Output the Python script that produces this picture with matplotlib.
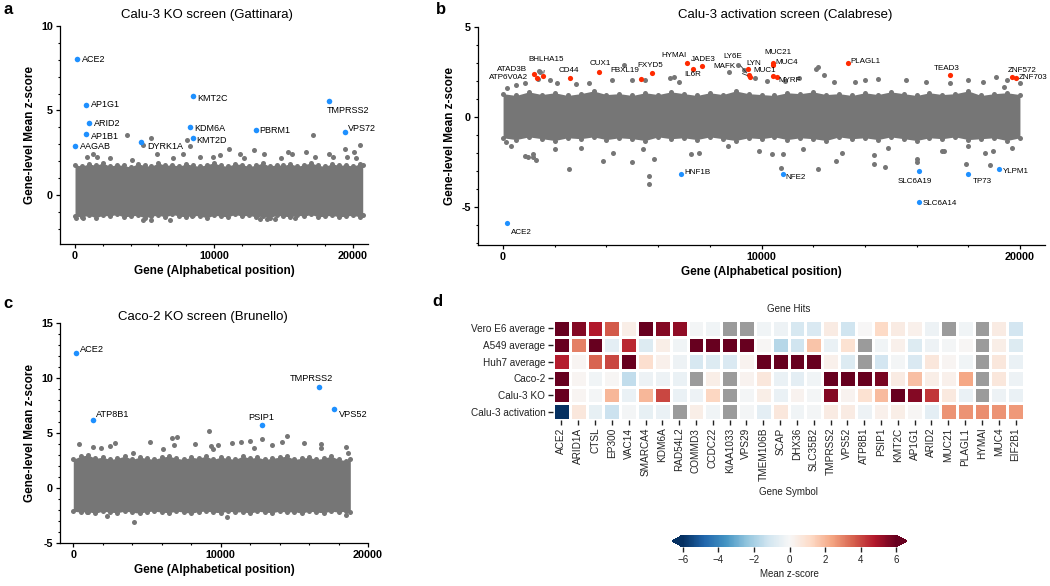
import numpy as np
import matplotlib
matplotlib.use('Agg')
import matplotlib.pyplot as plt

plt.rcParams['font.family'] = ['Liberation Sans', 'DejaVu Sans']

GRAY = '#767676'
BLUE = '#1e90ff'
RED = '#ff2a00'

# ---------------- panel a : Calu-3 KO (Gattinara) ----------------
# outline of the dense cloud, read every 500 genes (upper / lower edge)
a_band_x = list(range(0, 20501, 500)) + [20700]
a_band_top = [1.8, 1.7, 1.85, 1.75, 1.9, 1.7, 1.8, 1.75, 1.65, 1.85,
              1.75, 1.7, 1.9, 1.75, 1.8, 1.7, 1.85, 1.75, 1.7, 1.8,
              1.9, 1.75, 1.7, 1.85, 1.8, 1.7, 1.75, 1.9, 1.7, 1.8,
              1.75, 1.85, 1.7, 1.8, 1.9, 1.75, 1.7, 1.85, 1.75, 1.8,
              1.7, 1.85, 1.75]
a_band_bot = [-1.25, -1.3, -1.2, -1.35, -1.2, -1.25, -1.15, -1.3, -1.25, -1.2,
              -1.35, -1.25, -1.2, -1.3, -1.15, -1.25, -1.3, -1.2, -1.25, -1.35,
              -1.2, -1.25, -1.3, -1.15, -1.25, -1.2, -1.3, -1.25, -1.35, -1.2,
              -1.25, -1.3, -1.2, -1.25, -1.15, -1.3, -1.25, -1.2, -1.3, -1.25,
              -1.2, -1.3, -1.2]
a_out_x = [3710, 5440, 4900, 8070, 8260, 7740, 11100, 17100, 18300, 20500, 19400, 20100,
           12900, 13600, 10400, 5900, 1300, 840, 15350, 15600, 17300, 19600, 9000,
           1560, 2500, 4070, 7070, 9940, 11860, 12160, 14800, 16650, 18560, 20240,
           4860, 5500, 6800, 13300, 13800, 14400, 100, 550, 15800, 8400]
a_out_y = [3.53, 3.39, 2.94, 3.27, 2.9, 2.41, 2.7, 3.53, 2.41, 2.98, 2.7, 2.55,
           2.65, 2.4, 2.35, 2.4, 2.45, 2.25, 2.55, 2.45, 2.25, 2.25, 2.25,
           2.25, 2.16, 2.06, 2.16, 2.25, 2.45, 2.16, 2.16, 2.55, 2.25, 2.16,
           -1.47, -1.47, -1.5, -1.43, -1.43, -1.43, -1.37, -1.37, -1.37, -1.27]
a_genes = ['ACE2', 'AP1G1', 'ARID2', 'AP1B1', 'AAGAB', 'DYRK1A', 'KMT2C', 'KDM6A',
           'KMT2D', 'PBRM1', 'TMPRSS2', 'VPS72']
a_gene_x = [170, 790, 980, 790, 20, 4770, 8460, 8240, 8460, 13000, 18300, 19450]
a_gene_y = [8.04, 5.35, 4.25, 3.63, 2.88, 3.16, 5.84, 4.0, 3.39, 3.82, 5.59, 3.73]

# ---------------- panel b : Calu-3 activation (Calabrese) ----------------
b_band_x = list(range(0, 20001, 500))
b_band_top = [1.3, 1.2, 1.4, 1.25, 1.35, 1.2, 1.3, 1.45, 1.25, 1.3,
              1.2, 1.35, 1.25, 1.4, 1.3, 1.2, 1.35, 1.25, 1.45, 1.3,
              1.25, 1.2, 1.35, 1.3, 1.4, 1.25, 1.3, 1.2, 1.35, 1.25,
              1.4, 1.3, 1.2, 1.35, 1.25, 1.3, 1.45, 1.2, 1.3, 1.35,
              1.25]
b_band_bot = [-1.15, -1.25, -1.1, -1.2, -1.3, -1.15, -1.2, -1.1, -1.25, -1.15,
              -1.2, -1.3, -1.1, -1.2, -1.15, -1.25, -1.1, -1.2, -1.3, -1.15,
              -1.2, -1.1, -1.25, -1.15, -1.2, -1.3, -1.1, -1.2, -1.15, -1.25,
              -1.1, -1.2, -1.3, -1.15, -1.2, -1.1, -1.25, -1.2, -1.15, -1.3,
              -1.15]
b_out_x = [170, 500, 840, 1420, 1360, 1800, 2100, 2820, 3320, 4220, 4680, 4970, 5500,
           6470, 6600, 6800, 8760, 9100, 9330, 9760, 10200, 10900, 11450, 12100, 12200,
           12400, 12800, 13600, 14000, 14500, 15600, 16350, 17300, 18000, 18570, 19070,
           19500, 20000, 19400, 1400,
           2560, 5640, 5640, 5830, 5000, 3850, 850, 1270, 1150, 10740, 12170, 12870,
           14370, 14760, 14370, 16030, 16000, 17900, 18850, 18970, 18650, 17060, 10840,
           7260, 10400, 960, 1170, 100, 300, 2000, 3000, 4250, 5400, 7600, 8700, 9900,
           11600, 13100, 14900, 17000, 18000, 19700]
b_out_y = [1.63, 1.76, 1.89, 2.48, 2.09, 2.04, 1.89, 1.81, 1.89, 2.07, 2.87, 2.04, 2.04,
           2.19, 2.22, 1.94, 2.5, 2.9, 2.59, 2.15, 2.0, 1.98, 2.19, 2.69, 2.78,
           2.31, 1.94, 1.94, 2.04, 2.09, 2.04, 1.94, 1.89, 2.07, 1.94, 2.22,
           2.04, 1.89, 1.67, 2.56,
           -2.88, -3.25, -3.72, -2.3, -2.5, -2.45, -2.14, -2.39, -2.05, -2.82, -2.86, -2.42,
           -2.62, -2.77, -2.13, -2.5, -2.3, -2.62, -2.64, -1.91, -1.98, -1.91, -2.04,
           -2.04, -2.04, -2.22, -2.19, -1.39, -1.62, -1.79, -1.71, -1.99, -1.79, -1.99, -1.62, -1.9,
           -1.79, -1.99, -1.71, -1.9, -1.62, -1.71]
b_up_genes = ['ATAD3B', 'ATP6V0A2', 'BHLHA15', 'CD44', 'CUX1', 'FBXL19', 'FXYD5', 'HYMAI',
              'JADE3', 'IL6R', 'LY6E', 'MAFK', 'LYN', 'MUC1', 'MUC21', 'MUC4', 'MYRF',
              'PLAGL1', 'TEAD3', 'ZNF572', 'ZNF703']
b_up_x = [1210, 1330, 1560, 2590, 3710, 5330, 5760, 7130, 7690, 7360, 9500, 9550, 9470,
          10460, 10460, 10460, 10610, 13340, 17300, 19710, 19830]
b_up_y = [2.37, 2.18, 2.28, 2.15, 2.5, 2.13, 2.43, 2.98, 2.83, 2.67, 2.33, 2.25, 2.65,
          2.28, 3.02, 2.89, 2.24, 2.98, 2.33, 2.24, 2.15]
b_down_genes = ['ACE2', 'HNF1B', 'NFE2', 'SLC6A19', 'SLC6A14', 'TP73', 'YLPM1']
b_down_x = [160, 6890, 10850, 16100, 16100, 18000, 19200]
b_down_y = [-5.9, -3.16, -3.16, -2.99, -4.73, -3.16, -2.9]

# ---------------- panel c : Caco-2 KO (Brunello) ----------------
c_band_x = list(range(0, 18501, 500)) + [18800]
c_band_top = [2.6, 2.9, 3.0, 2.7, 2.8, 2.6, 2.7, 2.9, 2.6, 2.8,
              2.7, 2.6, 2.8, 2.9, 2.7, 2.6, 2.8, 2.7, 2.9, 2.6,
              2.8, 2.7, 2.6, 2.9, 2.7, 2.8, 2.6, 2.7, 2.8, 2.9,
              2.6, 2.7, 2.8, 2.6, 2.7, 2.9, 2.6, 2.5, 2.6]
c_band_bot = [-2.1, -2.2, -2.15, -2.3, -2.1, -2.2, -2.25, -2.1, -2.2, -2.3,
              -2.15, -2.1, -2.2, -2.25, -2.1, -2.2, -2.3, -2.15, -2.1, -2.2,
              -2.25, -2.1, -2.2, -2.15, -2.3, -2.1, -2.2, -2.25, -2.1, -2.2,
              -2.15, -2.3, -2.1, -2.2, -2.25, -2.1, -2.2, -2.1, -2.2]
c_out_x = [410, 1360, 1880, 2820, 2490, 5240, 6100, 6730, 7070, 6820, 8250, 9220, 9360,
           9500, 9850, 10780, 11370, 11980, 12270, 12810, 13510, 14170, 14500, 15660,
           16790, 16840, 18530, 18640, 4070,
           4140, 2260, 950, 10400, 18500]
c_out_y = [3.97, 3.7, 3.64, 4.09, 3.79, 4.15, 3.55, 4.58, 4.64, 3.88, 4.03, 5.15, 3.79,
           3.58, 3.88, 4.09, 4.18, 4.3, 3.64, 4.42, 3.88, 4.18, 4.76, 4.09,
           4.0, 3.64, 3.7, 3.18, 3.18,
           -3.12, -2.58, -2.21, -2.64, -2.42]
c_genes = ['ACE2', 'ATP8B1', 'PSIP1', 'TMPRSS2', 'VPS52']
c_gene_x = [200, 1310, 12810, 16680, 17700]
c_gene_y = [12.27, 6.21, 5.76, 9.18, 7.18]

# ---------------- panel d : heatmap ----------------
screens = ['Vero E6 average', 'A549 average', 'Huh7 average', 'Caco-2',
           'Calu-3 KO', 'Calu-3 activation']
hit_genes = ['ACE2', 'ARID1A', 'CTSL', 'EP300', 'VAC14', 'SMARCA4', 'KDM6A', 'RAD54L2',
             'COMMD3', 'CCDC22', 'KIAA1033', 'VPS29', 'TMEM106B', 'SCAP', 'DHX36',
             'SLC35B2', 'TMPRSS2', 'VPS52', 'ATP8B1', 'PSIP1', 'KMT2C', 'AP1G1', 'ARID2',
             'MUC21', 'PLAGL1', 'HYMAI', 'MUC4', 'EIF2B1']
nan = np.nan
vero = [6.5, 5.5, 4.8, 3.7, 0.4, 6.5, 5.5, 5.3, -0.1, -0.2, nan, nan, -0.2, -0.3,
        -1.0, -0.9, 0.5, -1.2, 0.0, 1.2, 0.5, 0.3, -0.3, nan, -0.2, nan, 0.5, -1.1]
a549 = [6.5, 3.0, 6.5, -0.6, 4.5, -0.8, 0.4, -0.2, 6.5, 6.5, 6.5, 6.5, 0.05, -1.7,
        -1.2, 1.7, -0.4, 0.9, nan, -0.2, 0.3, -0.8, -0.3, -0.1, 0.05, nan, 0.4, -0.8]
huh7 = [4.7, 0.1, 3.5, 4.0, 6.5, 1.0, 0.3, -0.3, -1.0, -0.8, -0.9, 0.2, 6.5, 6.5,
        6.5, 6.5, 0.3, -0.8, nan, -1.1, -0.1, -0.9, 0.7, 0.1, -0.2, nan, 0.7, -0.4]
caco2 = [6.5, 0.1, -0.2, 0.05, -1.5, -0.3, -0.3, -0.4, nan, 0.4, nan, 0.2, 0.7, -0.4,
         -0.6, -0.2, 6.5, 6.5, 6.5, 5.7, 0.5, 1.8, 0.4, 0.3, 2.3, nan, 0.7, -0.3]
calu3_ko = [6.5, 0.1, -0.1, 2.0, -0.4, 2.0, 4.0, -0.4, -0.3, 1.3, nan, -0.1, 0.4, -0.4,
            0.2, -0.1, 5.5, 0.2, 0.9, 1.9, 6.5, 5.5, 4.3, 0.6, -0.4, nan, -0.3, -0.4]
calu3_act = [-6.5, 0.7, -0.5, -1.3, -0.1, -0.5, -0.4, nan, 0.4, -0.2, nan, -0.1, -0.6, 0.7,
             -0.2, -0.1, 0.5, 0.5, -0.3, 0.3, 0.4, 0.05, -0.6, 2.7, 2.7, 2.8, 2.7, 2.6]

# label placement (gene -> (x, y, ha))
a_lab = {'ACE2': (480, 8.04, 'left'), 'AP1G1': (1130, 5.33, 'left'),
         'ARID2': (1370, 4.22, 'left'), 'AP1B1': (1130, 3.47, 'left'),
         'AAGAB': (360, 2.84, 'left'), 'DYRK1A': (5220, 2.88, 'left'),
         'KMT2C': (8810, 5.69, 'left'), 'KDM6A': (8550, 3.92, 'left'),
         'KMT2D': (8740, 3.2, 'left'), 'PBRM1': (13250, 3.82, 'left'),
         'TMPRSS2': (18080, 5.0, 'left'), 'VPS72': (19640, 3.92, 'left')}
b_lab = {'ATAD3B': (920, 2.65, 'right'), 'ATP6V0A2': (960, 2.22, 'right'),
         'BHLHA15': (1650, 3.17, 'center'), 'CD44': (2530, 2.56, 'center'),
         'CUX1': (3770, 2.96, 'center'), 'FBXL19': (5280, 2.56, 'right'),
         'FXYD5': (5710, 2.87, 'center'), 'HYMAI': (6630, 3.43, 'center'),
         'JADE3': (7760, 3.2, 'center'), 'IL6R': (7320, 2.37, 'center'),
         'LY6E': (8880, 3.37, 'center'), 'MAFK': (9000, 2.81, 'right'),
         'LYN': (9430, 3.0, 'left'), 'MUC1': (10120, 2.57, 'center'),
         'MUC21': (10620, 3.56, 'center'), 'MUC4': (10520, 3.04, 'left'),
         'MYRF': (10640, 2.04, 'left'), 'PLAGL1': (13440, 3.09, 'left'),
         'TEAD3': (17180, 2.72, 'center'), 'ZNF572': (19540, 2.59, 'left'),
         'ZNF703': (19960, 2.19, 'left'),
         'ACE2': (290, -6.4, 'left'), 'HNF1B': (7020, -3.07, 'left'),
         'NFE2': (10940, -3.36, 'left'), 'SLC6A19': (15920, -3.56, 'center'),
         'SLC6A14': (16250, -4.78, 'left'), 'TP73': (18170, -3.58, 'left'),
         'YLPM1': (19330, -3.03, 'left')}
b_lined = ['BHLHA15', 'LY6E', 'MAFK']
c_lab = {'ACE2': (450, 12.58, 'left'), 'ATP8B1': (1540, 6.67, 'left'),
         'PSIP1': (12770, 6.42, 'center'), 'TMPRSS2': (16160, 9.94, 'center'),
         'VPS52': (18030, 6.67, 'left')}

W, H = 1050, 586
fig = plt.figure(figsize=(W / 100, H / 100), dpi=100)


def box(l, t, r, b):
    return [l / W, 1 - b / H, (r - l) / W, (b - t) / H]


def cloud(ax, bx, btop, bbot, ox, oy):
    ax.fill_between(bx, bbot, btop, color=GRAY, lw=0, zorder=1)
    ax.scatter(bx, btop, s=13, color=GRAY, lw=0, zorder=1)
    ax.scatter(bx, bbot, s=13, color=GRAY, lw=0, zorder=1)
    ax.scatter(ox, oy, s=13, color=GRAY, lw=0, zorder=1)


def style(ax, xlim, ylim, yticks, xticks):
    ax.set_xlim(xlim)
    ax.set_ylim(ylim)
    for s in ['top', 'right']:
        ax.spines[s].set_visible(False)
    for s in ['left', 'bottom']:
        ax.spines[s].set_linewidth(0.9)
    ax.set_xticks(xticks)
    ax.set_xticklabels([str(t) for t in xticks], fontweight='bold')
    ax.set_xticks(np.arange(0, xlim[1], 2000), minor=True)
    ax.set_yticks(yticks)
    ax.set_yticklabels([str(t) for t in yticks], fontweight='bold')
    ax.set_yticks(np.arange(np.ceil(ylim[0]), ylim[1] + 0.01, 1), minor=True)
    ax.tick_params(which='major', length=3, width=0.9, labelsize=7.8, pad=2)
    ax.tick_params(which='minor', length=1.6, width=0.8)
    ax.set_xlabel('Gene (Alphabetical position)', fontsize=8.5, fontweight='bold', labelpad=3)
    ax.set_ylabel('Gene-level Mean z-score', fontsize=8.5, fontweight='bold', labelpad=4)


# panel a
ax_a = fig.add_axes(box(60, 26, 368, 244))
cloud(ax_a, a_band_x, a_band_top, a_band_bot, a_out_x, a_out_y)
ax_a.scatter(a_gene_x, a_gene_y, s=16, color=BLUE, lw=0, zorder=3)
for g, gx, gy in zip(a_genes, a_gene_x, a_gene_y):
    lx, ly, ha = a_lab[g]
    ax_a.text(lx, ly, g, fontsize=6.5, ha=ha, va='center', zorder=4)
style(ax_a, (-1080, 21080), (-2.9, 10), [0, 5, 10], [0, 10000, 20000])

# panel b
ax_b = fig.add_axes(box(478, 27, 1045, 245))
cloud(ax_b, b_band_x, b_band_top, b_band_bot, b_out_x, b_out_y)
ax_b.scatter(b_up_x, b_up_y, s=14, color=RED, lw=0, zorder=3)
ax_b.scatter(b_down_x, b_down_y, s=14, color=BLUE, lw=0, zorder=3)
for g, gx, gy in list(zip(b_up_genes, b_up_x, b_up_y)) + list(zip(b_down_genes, b_down_x, b_down_y)):
    lx, ly, ha = b_lab[g]
    if g in b_lined:
        ax_b.annotate(g, xy=(gx, gy), xytext=(lx, ly), fontsize=5.8, ha=ha, va='center',
                      arrowprops=dict(arrowstyle='-', color='#333333', lw=0.6,
                                      shrinkA=3, shrinkB=2), zorder=4)
    else:
        ax_b.text(lx, ly, g, fontsize=5.8, ha=ha, va='center', zorder=4)
style(ax_b, (-970, 20970), (-7.1, 5), [-5, 0, 5], [0, 10000, 20000])

# panel c
ax_c = fig.add_axes(box(60, 323, 368, 543))
cloud(ax_c, c_band_x, c_band_top, c_band_bot, c_out_x, c_out_y)
ax_c.scatter(c_gene_x, c_gene_y, s=16, color=BLUE, lw=0, zorder=3)
for g, gx, gy in zip(c_genes, c_gene_x, c_gene_y):
    lx, ly, ha = c_lab[g]
    ax_c.text(lx, ly, g, fontsize=6.6, ha=ha, va='center', zorder=4)
style(ax_c, (-900, 20000), (-5, 15), [-5, 0, 5, 10, 15], [0, 10000, 20000])

# titles and panel letters
fig.text(207 / W, 1 - 15 / H, 'Calu-3 KO screen (Gattinara)', fontsize=9.5, ha='center', va='center')
fig.text(785 / W, 1 - 15 / H, 'Calu-3 activation screen (Calabrese)', fontsize=9.5, ha='center', va='center')
fig.text(203 / W, 1 - 317 / H, 'Caco-2 KO screen (Brunello)', fontsize=9.5, ha='center', va='center')
for letter, x, y in [('a', 8, 10), ('b', 441, 10), ('c', 8, 304), ('d', 437, 302)]:
    fig.text(x / W, 1 - y / H, letter, fontsize=12, fontweight='bold', ha='center', va='center')

# panel d heatmap
vals = np.ma.masked_invalid(np.array([vero, a549, huh7, caco2, calu3_ko, calu3_act]))
cmap = plt.get_cmap('RdBu_r').with_extremes(bad='#9b9b9b')
ax_d = fig.add_axes(box(553, 320, 1024, 420))
mesh = ax_d.pcolormesh(vals, cmap=cmap, vmin=-6, vmax=6, edgecolors='white', linewidth=0.8)
ax_d.set_xlim(0, len(hit_genes))
ax_d.set_ylim(len(screens), 0)
for s in ax_d.spines.values():
    s.set_visible(False)
ax_d.set_xticks(np.arange(len(hit_genes)) + 0.5)
ax_d.set_xticklabels(hit_genes, rotation=90, fontsize=7.2, color='#222222')
ax_d.set_yticks(np.arange(len(screens)) + 0.5)
ax_d.set_yticklabels(screens, fontsize=7.2, color='#222222')
ax_d.tick_params(length=3.5, width=1.0, color='#222222', pad=2)
ax_d.set_title('Gene Hits', fontsize=7, color='#222222', pad=6)
ax_d.set_xlabel('Gene Symbol', fontsize=7, color='#222222', labelpad=4)

cax = fig.add_axes(box(672, 535, 907, 547))
cb = fig.colorbar(mesh, cax=cax, orientation='horizontal', extend='both',
                  ticks=[-6, -4, -2, 0, 2, 4, 6])
cb.outline.set_visible(False)
cb.ax.tick_params(length=3.5, width=1.0, color='#222222', labelsize=7, labelcolor='#222222', pad=2)
cb.set_label('Mean z-score', fontsize=7, color='#222222', labelpad=3)

fig.savefig('out.png', dpi=100)
